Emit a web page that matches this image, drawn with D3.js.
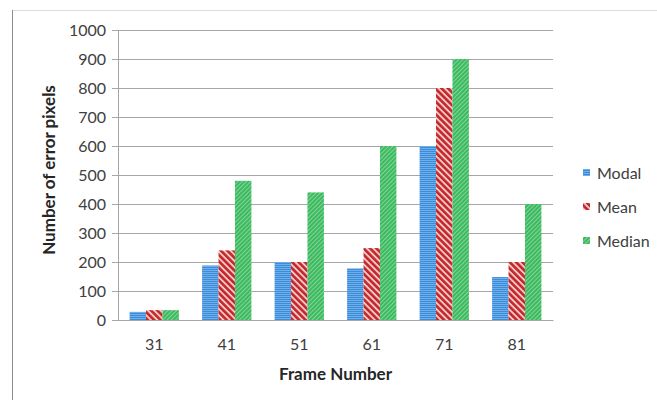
<!DOCTYPE html>
<html>
<head>
<meta charset="utf-8">
<script src="https://cdn.jsdelivr.net/npm/d3@7"></script>
<style>
  body { margin: 0; background: #fff; }
  text { font-family: Lato, "Open Sans", sans-serif; fill: #404040; }
</style>
</head>
<body>
<div id="chart-container" style="width:657px;height:400px"></div>
<script>
const chartContainer = document.getElementById("chart-container");

const frames = ["31", "41", "51", "61", "71", "81"];
const series = ["Modal", "Mean", "Median"];
const modal = [28, 188, 200, 178, 600, 148];
const mean = [34, 240, 200, 248, 800, 200];
const median = [34, 480, 440, 600, 900, 400];
const yTicks = [0, 100, 200, 300, 400, 500, 600, 700, 800, 900, 1000];

const values = { Modal: modal, Mean: mean, Median: median };
const data = frames.map((f, i) => ({
  frame: f,
  bars: series.map((s) => ({ key: s, value: values[s][i] })),
}));

const width = 657;
const height = 400;
const margin = { top: 30, right: 104, bottom: 80, left: 118 };
const graphWidth = width - margin.left - margin.right;
const graphHeight = height - margin.top - margin.bottom;

const svg = d3
  .select(chartContainer)
  .append("svg")
  .attr("width", width)
  .attr("height", height);

// fill patterns, roughly like the Excel textures
const defs = svg.append("defs");

const pModal = defs.append("pattern")
  .attr("id", "p-Modal")
  .attr("patternUnits", "userSpaceOnUse")
  .attr("width", 4).attr("height", 4);
pModal.append("rect").attr("width", 4).attr("height", 4).attr("fill", "#3b8ddb");
pModal.append("path")
  .attr("d", "M0,1 L1,0 L2,1 L3,0 L4,1 M0,3 L1,2 L2,3 L3,2 L4,3")
  .attr("stroke", "#7db6ea").attr("stroke-width", 0.8).attr("fill", "none");

const pMean = defs.append("pattern")
  .attr("id", "p-Mean")
  .attr("patternUnits", "userSpaceOnUse")
  .attr("width", 4.5).attr("height", 4.5)
  .attr("patternTransform", "rotate(-45)");
pMean.append("rect").attr("width", 4.5).attr("height", 4.5).attr("fill", "#f6c9c6");
pMean.append("rect").attr("width", 2.6).attr("height", 4.5).attr("fill", "#c3262b");

const pMedian = defs.append("pattern")
  .attr("id", "p-Median")
  .attr("patternUnits", "userSpaceOnUse")
  .attr("width", 3).attr("height", 3)
  .attr("patternTransform", "rotate(45)");
pMedian.append("rect").attr("width", 3).attr("height", 3).attr("fill", "#3dba60");
pMedian.append("rect").attr("width", 1).attr("height", 3).attr("fill", "#7fd597");

// chart area border
svg.append("line")
  .attr("x1", 12).attr("x2", width).attr("y1", 10.5).attr("y2", 10.5)
  .attr("stroke", "#dcdcdc");
svg.append("line")
  .attr("x1", 12.5).attr("x2", 12.5).attr("y1", 10).attr("y2", height)
  .attr("stroke", "#8c8c8c");

const graph = svg
  .append("g")
  .attr("transform", `translate(${margin.left}, ${margin.top})`);

const y = d3.scaleLinear().domain([0, 1000]).range([graphHeight, 0]);

const x0 = d3
  .scaleBand()
  .domain(frames)
  .range([0, graphWidth])
  .paddingInner(0.32)
  .paddingOuter(0.16);

const x1 = d3.scaleBand().domain(series).range([0, x0.bandwidth()]);

// gridlines and y axis
const gYAxis = graph.append("g").call(
  d3.axisLeft(y).tickValues(yTicks).tickFormat(d3.format("d")).tickSize(-graphWidth).tickPadding(12)
);
gYAxis.select(".domain").remove();
gYAxis.selectAll(".tick line").attr("stroke", "#a6a6a6").attr("x1", -6);
gYAxis.selectAll("text").style("font-size", "16px").attr("fill", "#404040");

graph.append("line")
  .attr("x1", 0.5).attr("x2", 0.5).attr("y1", 0).attr("y2", graphHeight)
  .attr("stroke", "#a6a6a6");

const groups = graph
  .selectAll("g.group")
  .data(data)
  .enter()
  .append("g")
  .attr("class", "group")
  .attr("transform", (d) => `translate(${x0(d.frame)},0)`);

groups
  .selectAll("rect")
  .data((d) => d.bars)
  .enter()
  .append("rect")
  .attr("x", (d) => x1(d.key))
  .attr("width", x1.bandwidth())
  .attr("y", (d) => y(d.value))
  .attr("height", (d) => graphHeight - y(d.value))
  .attr("fill", (d) => `url(#p-${d.key})`);

// x axis
const gXAxis = graph
  .append("g")
  .attr("transform", `translate(0, ${graphHeight})`)
  .call(d3.axisBottom(x0).tickSize(0).tickPadding(19));
gXAxis.select(".domain").attr("stroke", "#a6a6a6");
gXAxis.selectAll("text").style("font-size", "16px").attr("fill", "#404040");

// axis titles
svg.append("text")
  .attr("x", margin.left + graphWidth / 2)
  .attr("y", 380)
  .attr("text-anchor", "middle")
  .style("font-size", "17px")
  .style("font-weight", "bold")
  .style("fill", "#262626")
  .text("Frame Number");

svg.append("text")
  .attr("transform", "translate(55,170) rotate(-90)")
  .attr("text-anchor", "middle")
  .style("font-size", "17px")
  .style("font-weight", "bold")
  .style("fill", "#262626")
  .text("Number of error pixels");

// legend
const legend = svg.append("g").attr("transform", "translate(583,173)");
const items = legend
  .selectAll("g")
  .data(series)
  .enter()
  .append("g")
  .attr("transform", (d, i) => `translate(0, ${i * 34})`);
items.append("rect")
  .attr("y", -4).attr("width", 7).attr("height", 7)
  .attr("fill", (d) => `url(#p-${d})`);
items.append("text")
  .attr("x", 14).attr("y", 0).attr("dy", "0.36em")
  .style("font-size", "16px")
  .text((d) => d);
</script>
</body>
</html>
